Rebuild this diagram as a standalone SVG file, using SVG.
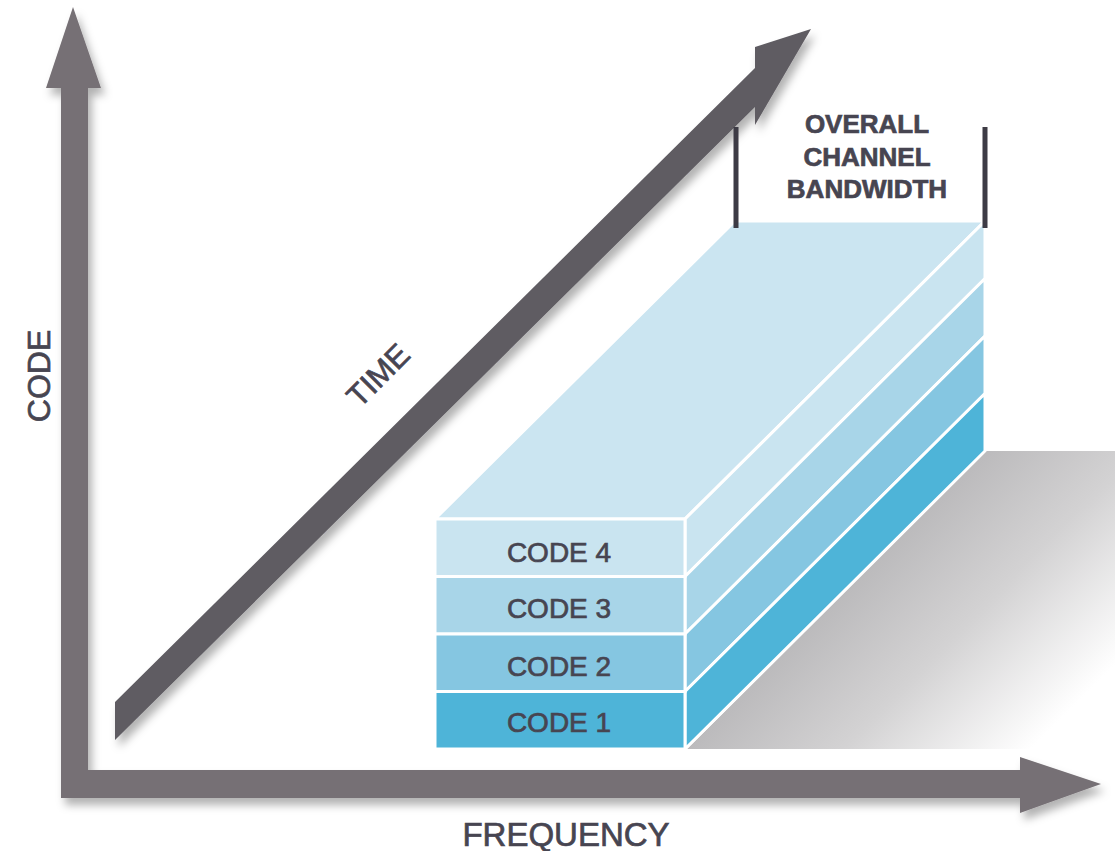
<svg xmlns="http://www.w3.org/2000/svg" width="1115" height="851" viewBox="0 0 1115 851">
  <defs>
    <filter id="soft" x="-10%" y="-10%" width="130%" height="130%">
      <feDropShadow dx="4" dy="7" stdDeviation="4" flood-color="#000" flood-opacity="0.3"/>
    </filter>
    <linearGradient id="floor" gradientUnits="userSpaceOnUse" x1="845" y1="555" x2="1035" y2="745">
      <stop offset="0" stop-color="#b6b5b7"/>
      <stop offset="0.5" stop-color="#d3d2d3"/>
      <stop offset="1" stop-color="#ffffff"/>
    </linearGradient>
  </defs>
  <style>
    .lbl { font-family: "Liberation Sans", Arial, sans-serif; fill: #474551; stroke: #474551; stroke-width: 0.7; text-anchor: middle; }
    .face { stroke: #ffffff; stroke-width: 3; stroke-linejoin: miter; }
    .bar { fill: #3d3b45; }
  </style>
  <rect width="1115" height="851" fill="#ffffff"/>

  <!-- floor shading under the block -->
  <g id="floor-shade">
    <polygon points="687,749 986,451 1115,451 1115,749" fill="url(#floor)"/>
  </g>

  <!-- axes -->
  <g id="connectors">
    <path id="axes" filter="url(#soft)" fill="#767075"
          d="M61,88 L46,88 L73,7 L101,88 L88,88 L88,770 L1020,770 L1020,757 L1101,784 L1020,813 L1020,798 L61,798 Z"/>
    <path id="time-arrow" filter="url(#soft)" fill="#5f5c62"
          d="M115,702 L755,68 L755,47 L811,29 L755,125 L755,107 L115,740 Z"/>
  </g>

  <!-- channel block -->
  <g id="block">
    <polygon class="face" points="435,519 735,221 985,221 685,519" fill="#cbe5f1"/>
    <polygon class="face" points="685,519 985,221 985,278.5 685,576.5" fill="#c9e4f0"/>
    <polygon class="face" points="685,576.5 985,278.5 985,336 685,634" fill="#a8d5e8"/>
    <polygon class="face" points="685,634 985,336 985,393.5 685,691.5" fill="#85c6e1"/>
    <polygon class="face" points="685,691.5 985,393.5 985,451 685,749" fill="#4eb4d8"/>
  </g>

  <g id="code4">
    <rect class="face" x="435" y="519" width="250" height="57.5" fill="#c9e4f0"/>
    <text class="lbl" x="559" y="562" font-size="28">CODE 4</text>
  </g>
  <g id="code3">
    <rect class="face" x="435" y="576.5" width="250" height="57.5" fill="#a8d5e8"/>
    <text class="lbl" x="559" y="618" font-size="28">CODE 3</text>
  </g>
  <g id="code2">
    <rect class="face" x="435" y="634" width="250" height="57.5" fill="#85c6e1"/>
    <text class="lbl" x="559" y="676" font-size="28">CODE 2</text>
  </g>
  <g id="code1">
    <rect class="face" x="435" y="691.5" width="250" height="57.5" fill="#4eb4d8"/>
    <text class="lbl" x="559" y="732" font-size="28">CODE 1</text>
  </g>

  <!-- bandwidth marker -->
  <g id="bandwidth">
    <rect class="bar" x="733.5" y="127" width="5" height="101"/>
    <rect class="bar" x="982.5" y="127" width="5" height="101"/>
    <text class="lbl" x="867" y="133" font-size="26" font-weight="bold" stroke-width="0">OVERALL</text>
    <text class="lbl" x="867" y="166" font-size="26" font-weight="bold" stroke-width="0">CHANNEL</text>
    <text class="lbl" x="867" y="198" font-size="26" font-weight="bold" stroke-width="0">BANDWIDTH</text>
  </g>

  <!-- axis labels -->
  <g id="label-code">
    <text class="lbl" transform="translate(38,376) rotate(-90)" x="0" y="11.5" font-size="32">CODE</text>
  </g>
  <g id="label-frequency">
    <text class="lbl" x="566" y="846" font-size="33">FREQUENCY</text>
  </g>
  <g id="label-time">
    <text class="lbl" transform="translate(378,375) rotate(-45)" x="0" y="11" font-size="31">TIME</text>
  </g>
</svg>
